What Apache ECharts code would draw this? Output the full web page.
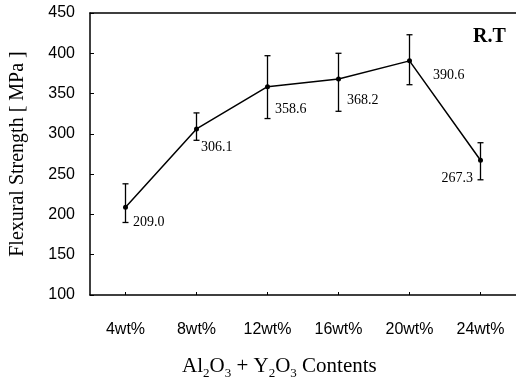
<!DOCTYPE html>
<html>
<head>
<meta charset="utf-8">
<script src="https://cdn.jsdelivr.net/npm/echarts@6/dist/echarts.min.js"></script>
<style>
  html, body { margin: 0; padding: 0; background: #fff; }
  #chart { width: 516px; height: 390px; }
</style>
</head>
<body>
<div id="chart"></div>
<script>
// Al2O3 + Y2O3 content vs flexural strength at room temperature
var contents = ['4wt%', '8wt%', '12wt%', '16wt%', '20wt%', '24wt%'];
var strength = [209.0, 306.1, 358.6, 368.2, 390.6, 267.3];
var errLow = [190, 292, 319, 328, 361, 243];
var errHigh = [238, 326, 397, 400, 423, 289];
var yTicks = [100, 150, 200, 250, 300, 350, 400, 450];

// where each value label sits next to its point
var labelPos = ['right', 'right', 'right', 'right', 'right', 'left'];
var labelOffsets = [[0, 15], [-3, 18], [0, 23], [1, 21], [16, 14], [0, 18]];

var chart = echarts.init(document.getElementById('chart'));

var pointData = strength.map(function (v, i) {
    return {
        value: v,
        label: {
            position: labelPos[i],
            offset: labelOffsets[i],
            formatter: v.toFixed(1)
        }
    };
});

var barData = contents.map(function (c, i) {
    return [i, errLow[i], errHigh[i]];
});

var option = {
    animation: false,
    backgroundColor: '#fff',
    grid: {left: 89, right: -2, top: 13, bottom: 95},
    title: {
        left: 177,
        top: 348,
        text: '{a|Al}{s|2}{a|O}{s|3}{a| + Y}{s|2}{a|O}{s|3}{a| Contents}',
        textStyle: {
            fontWeight: 'normal',
            rich: {
                a: {fontFamily: 'Liberation Serif', fontSize: 21, color: '#000', fontWeight: 'normal'},
                s: {fontFamily: 'Liberation Serif', fontSize: 13, color: '#000', fontWeight: 'normal',
                    verticalAlign: 'bottom', padding: [14, 0, 0, 0]}
            }
        }
    },
    graphic: [{
        type: 'text',
        left: 473,
        top: 27,
        style: {
            text: 'R.T',
            font: 'bold 20px "Liberation Serif"',
            fill: '#000'
        }
    }],
    xAxis: [{
        type: 'category',
        data: contents,
        axisLine: {lineStyle: {color: '#000', width: 1.5}},
        axisTick: {show: true, inside: true, alignWithLabel: true, length: 3, lineStyle: {color: '#000'}},
        axisLabel: {margin: 27, fontFamily: 'Liberation Sans', fontSize: 16, color: '#000'},
        splitLine: {show: false}
    }, {
        type: 'category',
        position: 'top',
        data: contents,
        axisLine: {lineStyle: {color: '#000', width: 1.5}},
        axisTick: {show: false},
        axisLabel: {show: false}
    }],
    yAxis: {
        type: 'value',
        min: yTicks[0],
        max: yTicks[yTicks.length - 1],
        interval: 50,
        name: 'Flexural Strength [ MPa ]',
        nameLocation: 'middle',
        nameGap: 62,
        nameTextStyle: {fontFamily: 'Liberation Serif', fontSize: 20, color: '#000'},
        axisLine: {show: true, lineStyle: {color: '#000', width: 1.5}},
        axisTick: {show: true, inside: true, length: 4, lineStyle: {color: '#000'}},
        axisLabel: {margin: 15, fontFamily: 'Liberation Sans', fontSize: 16, color: '#000'},
        splitLine: {show: false}
    },
    series: [{
        type: 'line',
        data: pointData,
        symbol: 'circle',
        symbolSize: 5,
        itemStyle: {color: '#000'},
        lineStyle: {color: '#000', width: 1.5},
        label: {
            show: true,
            fontFamily: 'Liberation Serif',
            fontSize: 14,
            color: '#000'
        },
        z: 3
    }, {
        type: 'custom',
        data: barData,
        encode: {x: 0, y: [1, 2]},
        renderItem: function (params, api) {
            var lo = api.coord([api.value(0), api.value(1)]);
            var hi = api.coord([api.value(0), api.value(2)]);
            var w = 3;
            var st = {stroke: '#000', lineWidth: 1.3};
            return {
                type: 'group',
                children: [
                    {type: 'line', shape: {x1: hi[0], y1: hi[1], x2: lo[0], y2: lo[1]}, style: st},
                    {type: 'line', shape: {x1: hi[0] - w, y1: hi[1], x2: hi[0] + w, y2: hi[1]}, style: st},
                    {type: 'line', shape: {x1: lo[0] - w, y1: lo[1], x2: lo[0] + w, y2: lo[1]}, style: st}
                ]
            };
        },
        z: 2
    }]
};

chart.setOption(option);
</script>
</body>
</html>
